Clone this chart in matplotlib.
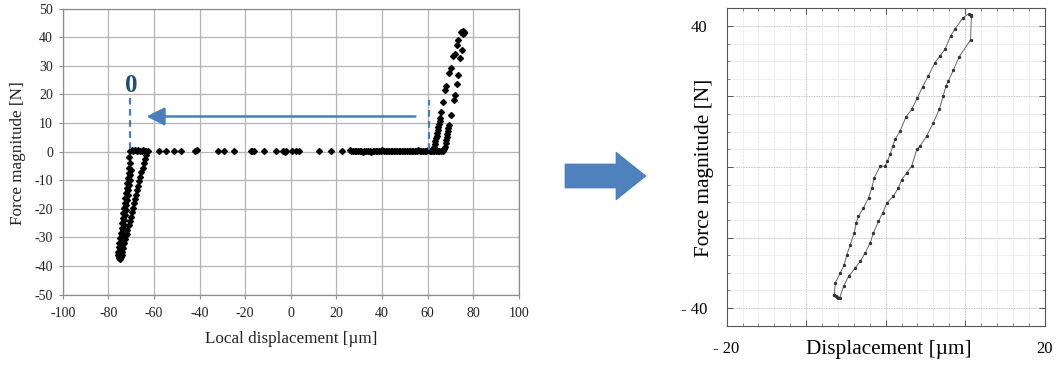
import matplotlib
matplotlib.use("Agg")
import matplotlib.pyplot as plt
from matplotlib.patches import Polygon
from matplotlib.ticker import MultipleLocator, FixedLocator

plt.rcParams['font.family'] = ['Liberation Serif', 'DejaVu Serif']
plt.rcParams['axes.unicode_minus'] = False

# ---------------- Left chart data ----------------
loop_x = [-70.3, -69.7, -69.1, -68.4, -67.6, -66.9, -66.1, -65.4, -64.7, -64.0, -63.4, -62.7, -70.8,
          -70.5, -70.8, -71.1, -71.4, -71.6, -71.9, -72.2, -72.5, -72.8, -73.1, -73.4, -73.6, -73.9,
          -74.2, -74.5, -74.8, -75.1, -75.4, -75.7,
          -70.1, -70.4, -70.7, -71.0, -71.3, -71.5, -71.8, -72.1, -72.4, -72.7, -73.0, -73.3, -73.6,
          -73.9, -74.2, -74.5, -74.8,
          -75.9, -75.5, -75.1, -74.8, -74.5, -74.2,
          -73.8, -73.4, -72.9, -72.5, -72.0, -71.6, -71.1, -70.7, -70.2, -69.7, -69.3, -68.8, -68.4,
          -67.9, -67.5, -67.0, -66.5, -66.0, -65.5, -65.0, -64.5, -64.0, -63.6]
loop_y = [0.4, 0.5, 0.3, 0.5, 0.4, 0.5, 0.4, 0.3, 0.5, 0.4, 0.3, 0.4, -1.8,
          -4.1, -5.8, -7.6, -9.3, -11.0, -12.7, -14.5, -16.2, -17.9, -19.7, -21.5, -23.2, -25.0,
          -26.7, -28.4, -30.1, -31.8, -33.5, -35.1,
          -6.5, -8.2, -9.9, -11.7, -13.4, -15.1, -16.9, -18.6, -20.4, -22.1, -23.8, -25.6, -27.3,
          -29.0, -30.8, -32.5, -34.2,
          -36.2, -36.7, -37.1, -37.4, -36.9, -36.1,
          -35.0, -33.6, -32.0, -30.5, -28.9, -27.4, -25.8, -24.3, -22.7, -21.2, -19.7, -18.1, -16.6,
          -15.0, -13.5, -11.9, -10.4, -8.8, -7.2, -5.7, -4.1, -2.6, -1.2]

flat_x = [-57.9, -54.5, -51.3, -48.2, -41.8, -41.2, -32.0, -29.3, -24.7, -17.3, -16.8, -16.3,
          -11.8, -6.6, -3.5, -2.6, -2.0, 0.5, 2.3, 3.6, 12.4, 17.5, 22.6, 25.8, 26.6, 27.3, 28.1,
          28.7, 29.5, 30.2, 31.0, 31.6, 32.3, 33.1, 33.8, 34.6, 35.2, 35.9, 36.7, 37.4, 38.0, 38.8,
          39.5, 40.1, 40.9, 41.6, 42.3, 43.0, 43.8, 44.5, 45.1, 45.8, 46.6, 47.3, 48.0, 48.7, 49.5,
          50.2, 51.0, 51.7, 52.3, 53.1, 53.8, 54.5, 55.2, 56.0, 56.7, 57.3, 58.1, 58.8, 59.5, 60.2,
          60.9, 61.5, 62.2, 63.0, 63.8, 64.5, 65.2]
flat_y = [0.4, 0.4, 0.4, 0.4, 0.3, 0.5, 0.3, 0.2, 0.4, 0.3, 0.4, 0.2,
          0.1, 0.4, 0.3, 0.0, 0.3, 0.4, 0.3, 0.4, 0.3, 0.3, 0.4, 0.5, 0.1, 0.3, 0.2,
          0.4, 0.1, 0.3, 0.2, 0.0, 0.2, 0.3, 0.1, 0.2, 0.0, 0.3, 0.2, 0.3, 0.1, 0.4,
          0.3, 0.5, 0.2, 0.4, 0.3, 0.1, 0.3, 0.2, 0.4, 0.2, 0.3, 0.1, 0.3, 0.4, 0.2,
          0.3, 0.1, 0.4, 0.3, 0.2, 0.4, 0.3, 0.2, 0.5, 0.3, 0.4, 0.2, 0.4, 0.3, 0.5,
          0.3, 0.4, 0.2, 0.3, 0.2, 0.3, 0.2]

ramp_x = [62.6, 62.9, 63.2, 63.4, 63.7, 64.0, 64.2, 64.5, 64.8, 65.1, 65.3, 65.6, 66.1, 66.7,
          67.6, 68.0, 69.5, 70.1, 71.2, 72.0, 73.0, 73.5, 74.9, 75.4, 75.8, 76.2, 75.6,
          66.0, 66.6, 67.2, 67.6, 67.9, 68.1, 68.4, 68.7, 68.9, 69.2, 69.5, 70.5, 71.5, 72.0,
          72.8, 73.4, 74.3, 75.0]
ramp_y = [0.6, 1.6, 2.6, 3.6, 4.6, 5.6, 6.6, 7.6, 8.6, 9.6, 10.6, 11.7, 14.0, 17.4,
          21.5, 22.9, 27.6, 29.2, 33.6, 34.3, 37.2, 39.0, 41.8, 42.3, 41.9, 41.5, 41.2,
          0.2, 0.4, 0.8, 1.8, 2.9, 4.0, 5.1, 6.2, 7.3, 8.4, 9.4, 12.8, 18.0, 19.8,
          23.8, 26.8, 32.6, 35.7]

left_xticks = [-100, -80, -60, -40, -20, 0, 20, 40, 60, 80, 100]
left_yticks = [-50, -40, -30, -20, -10, 0, 10, 20, 30, 40, 50]

# annotation values (left chart)
zero_marker_x = [-70.4, 60.7]
zero_marker_y0 = [1.1, 0.5]
zero_marker_y1 = [18.8, 18.1]
shift_arrow_from = (54.7, 12.3)
shift_arrow_to = (-63.3, 12.3)
zero_label_pos = (-70.0, 23.0)

# ---------------- Right chart data ----------------
loop2_x = [-6.46, -6.33, -5.71, -5.20, -4.87, -4.45, -3.95, -3.70, -3.41, -2.78, -2.15, -1.73,
           -1.44, -0.69, -0.06, 0.23, 0.56, 0.90, 1.19, 1.82, 2.57, 3.28, 3.99, 4.66, 5.37, 6.21,
           6.83, 7.46, 8.17, 8.71, 9.76, 10.51, 10.70, 10.80, 10.68, 9.26, 8.51, 7.88, 7.59, 7.25,
           6.75, 6.00, 5.16, 4.33, 3.91, 3.28, 2.65, 2.03, 1.61, 0.98, 0.15, -0.36, -0.90, -1.53,
           -1.94, -2.57, -3.20, -3.82, -4.66, -5.29, -5.79, -6.00, -6.12, -6.30, -6.46]
loop2_y = [-36.21, -32.90, -30.06, -27.69, -24.85, -22.01, -18.70, -15.86, -13.96, -11.60, -8.76,
           -5.92, -3.07, 0.24, 0.24, 1.66, 3.55, 5.92, 7.81, 10.18, 14.25, 16.33, 19.64, 22.77,
           25.80, 29.59, 31.48, 33.37, 37.16, 39.05, 42.37, 43.50, 43.20, 42.84, 36.02, 31.29,
           27.41, 24.38, 22.96, 20.12, 16.33, 12.54, 8.76, 5.92, 4.97, 0.24, -1.66, -3.55, -5.92,
           -8.28, -10.18, -13.02, -15.38, -18.70, -21.54, -24.38, -26.75, -28.64, -31.01, -33.85,
           -37.16, -37.20, -36.97, -36.60, -36.21]
right_xticklabels = ["- 20", "", "", "", "20"]
right_yticklabels = ["- 40", "", "", "", "40"]

blue = '#4a7ebb'
dark_blue = '#1f4e79'

fig = plt.figure(figsize=(10.58, 3.67), dpi=100)
W, H = 1058.0, 367.0

# ---------------- Left axes ----------------
ax = fig.add_axes([62.7 / W, (H - 294.6) / H, 456.0 / W, 285.9 / H])
ax.set_xlim(-100, 100)
ax.set_ylim(-50, 50)
ax.set_xticks(left_xticks)
ax.set_yticks(left_yticks)
ax.grid(True, color='#b4b4b4', linewidth=0.9)
ax.set_axisbelow(True)
for s in ax.spines.values():
    s.set_color('#8c8c8c')
    s.set_linewidth(0.9)
ax.tick_params(direction='out', length=3, width=0.8, color='#8c8c8c',
               labelsize=10, labelcolor='#222222', pad=4)
ax.tick_params(axis='x', pad=6)

mk = dict(marker='D', markersize=3.0, color='black', linestyle='none')
ax.plot(loop_x, loop_y, **mk)
ax.plot(flat_x, flat_y, **mk)
ax.plot(ramp_x, ramp_y, **mk)

for xm, y0, y1 in zip(zero_marker_x, zero_marker_y0, zero_marker_y1):
    ax.plot([xm, xm], [y0, y1], color=blue, linewidth=1.6, linestyle=(0, (3, 2)))
ax.annotate('', xy=shift_arrow_to, xytext=shift_arrow_from,
            arrowprops=dict(arrowstyle='-|>,head_length=1.1,head_width=0.55',
                            color=blue, lw=1.8, mutation_scale=10, shrinkA=0, shrinkB=0))
ax.text(zero_label_pos[0], zero_label_pos[1], '0', color=dark_blue, fontsize=18,
        fontweight='bold', ha='center', va='center')

ax.set_xlabel('Local displacement [µm]', fontsize=12.3, color='#222222')
ax.xaxis.set_label_coords(0.5, -0.127)
ax.set_ylabel('Force magnitude [N]', fontsize=12.3, color='#222222')
ax.yaxis.set_label_coords(-0.0805, 0.495)

# ---------------- Middle block arrow ----------------
def fx(p):
    return p / W

def fy(p):
    return (H - p) / H

arrow_pts = [(fx(565), fy(164)), (fx(616), fy(164)), (fx(616), fy(152)), (fx(646), fy(176)),
             (fx(616), fy(200)), (fx(616), fy(188)), (fx(565), fy(188))]
fig.patches.append(Polygon(arrow_pts, closed=True, transform=fig.transFigure,
                           facecolor='#4f81bd', edgecolor='#4a7ab5', linewidth=0.5))

# ---------------- Right axes ----------------
ax2 = fig.add_axes([726.6 / W, (H - 325.7) / H, 318.0 / W, 317.4 / H])
ax2.set_xlim(-20, 20)
ax2.set_ylim(-45, 45)
ax2.xaxis.set_major_locator(FixedLocator([-20, -10, 0, 10, 20]))
ax2.xaxis.set_minor_locator(MultipleLocator(2))
ax2.yaxis.set_major_locator(FixedLocator([-40, -20, 0, 20, 40]))
ax2.yaxis.set_minor_locator(MultipleLocator(5))
ax2.set_xticklabels(right_xticklabels)
ax2.set_yticklabels(right_yticklabels)
ax2.grid(True, which='major', color='#b0b0b0', linewidth=0.6, linestyle=(0, (1, 1)))
ax2.grid(True, which='minor', color='#d4d4d4', linewidth=0.5, linestyle=(0, (1, 1)))
ax2.set_axisbelow(True)
for s in ax2.spines.values():
    s.set_color('#555555')
    s.set_linewidth(0.8)
ax2.tick_params(which='both', direction='in', top=True, right=True, color='#555555')
ax2.tick_params(which='major', length=4, width=0.7)
ax2.tick_params(which='minor', length=2.5, width=0.5)
ax2.tick_params(axis='x', which='major', labelsize=12, pad=11)
ax2.tick_params(axis='y', which='major', labelsize=12, pad=14)

ax2.plot(loop2_x, loop2_y, color='#666666', linewidth=0.7, marker='o', markersize=1.4,
         markerfacecolor='#333333', markeredgecolor='#333333')

ax2.set_xlabel('Displacement [µm]', fontsize=15.3)
ax2.xaxis.set_label_coords(0.511, -0.045)
ax2.set_ylabel('Force magnitude [N]', fontsize=15.3)
ax2.yaxis.set_label_coords(-0.040, 0.496)

fig.savefig('out.png', dpi=100)
